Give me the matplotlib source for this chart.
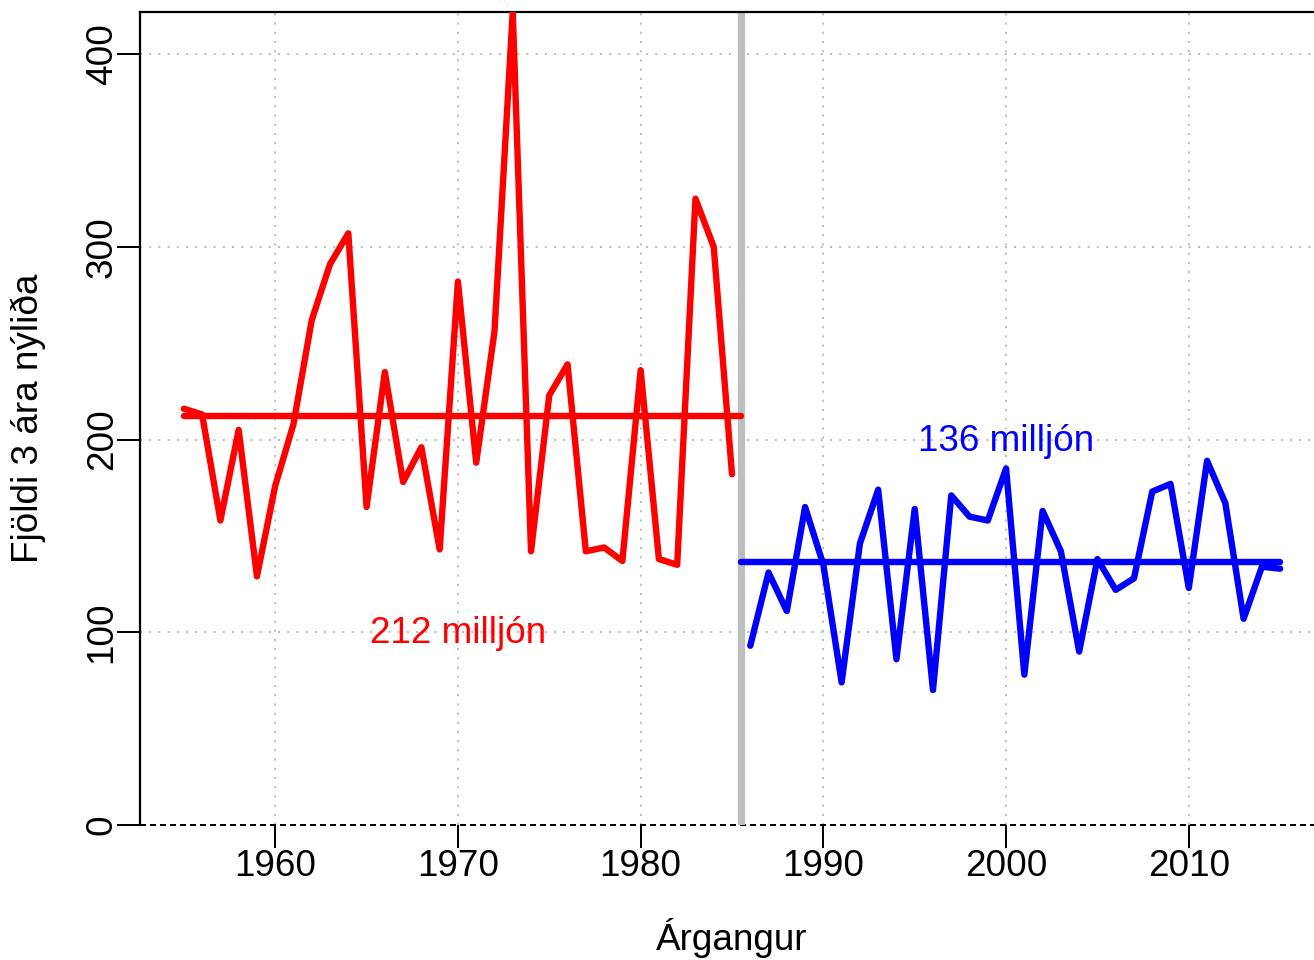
import numpy as np
import matplotlib
matplotlib.use("Agg")
import matplotlib.pyplot as plt

# ---- data ----
years_early = list(range(1955, 1986))
recruits_early = [216, 213, 158, 205, 129, 176, 208, 262, 291, 307, 165, 235,
                  178, 196, 143, 282, 188, 256, 422, 142, 223, 239, 142, 144,
                  137, 236, 138, 135, 325, 300, 182]
years_late = list(range(1986, 2016))
recruits_late = [93, 131, 111, 165, 135, 74, 146, 174, 86, 164, 70, 171, 160,
                 158, 185, 78, 163, 142, 90, 138, 122, 128, 173, 177, 123, 189,
                 167, 107, 134, 133]
split_year = 1985.5
label_early = "212 milljón"
label_late = "136 milljón"
x_ticks = [1960, 1970, 1980, 1990, 2000, 2010]
y_ticks = [0, 100, 200, 300, 400]
x_label = "Árgangur"
y_label = "Fjöldi 3 ára nýliða"

plt.rcParams['font.family'] = ['Liberation Sans', 'DejaVu Sans']
FS = 26.6

W, H = 1314, 960
fig = plt.figure(figsize=(W / 100, H / 100), dpi=100)
left_px, right_px, top_px, bottom_px = 140, 1324, 11.7, 825
ax = fig.add_axes([left_px / W, 1 - bottom_px / H,
                   (right_px - left_px) / W, (bottom_px - top_px) / H])

ax.set_xlim(1952.6, 2017.4)
ax.set_ylim(0, max(recruits_early))

# grid
grid_kw = dict(color='#BEBEBE', lw=1.44, dashes=(1, 3.6), zorder=1)
for xv in x_ticks:
    ax.axvline(xv, **grid_kw)
for yv in y_ticks[1:]:
    ax.axhline(yv, **grid_kw)
ax.axhline(0, color='black', lw=1.44, dashes=(3, 2), zorder=2, clip_on=False)

# split line
ax.axvline(split_year, color='#BEBEBE', lw=5.2, zorder=2)

line_kw = dict(lw=4.6, solid_capstyle='round', solid_joinstyle='round', zorder=3)
m1 = np.mean(recruits_early)
m2 = np.mean(recruits_late)
ax.plot(years_early, recruits_early, color='#FF0000', **line_kw)
ax.plot([years_early[0], split_year], [m1, m1], color='#FF0000', **line_kw)
ax.plot(years_late, recruits_late, color='#0000FF', **line_kw)
ax.plot([split_year, years_late[-1]], [m2, m2], color='#0000FF', **line_kw)

ax.text(1970, 94.5, label_early, color='#FF0000', fontsize=FS, ha='center', va='baseline', zorder=4)
ax.text(2000, 194, label_late, color='#0000FF', fontsize=FS, ha='center', va='baseline', zorder=4)

# spines
for s in ['bottom', 'right']:
    ax.spines[s].set_visible(False)
for s in ['left', 'top']:
    ax.spines[s].set_linewidth(1.6)

ax.set_xticks(x_ticks)
ax.set_yticks(y_ticks)
ax.tick_params(axis='both', length=16.6, width=1.44, labelsize=FS, direction='out')
ax.tick_params(axis='x', pad=1)
ax.tick_params(axis='y', pad=-2, labelrotation=90)
for t in ax.get_yticklabels():
    t.set_va('center')

ax.set_xlabel(x_label, fontsize=FS)
ax.set_ylabel(y_label, fontsize=FS)
ax.xaxis.label.set_va('center')
ax.yaxis.label.set_va('center')
ax.xaxis.set_label_coords(0.5, (bottom_px - 938) / (bottom_px - top_px))
ax.yaxis.set_label_coords((28 - left_px) / (right_px - left_px), 0.5)

fig.savefig("out.png", dpi=100)
